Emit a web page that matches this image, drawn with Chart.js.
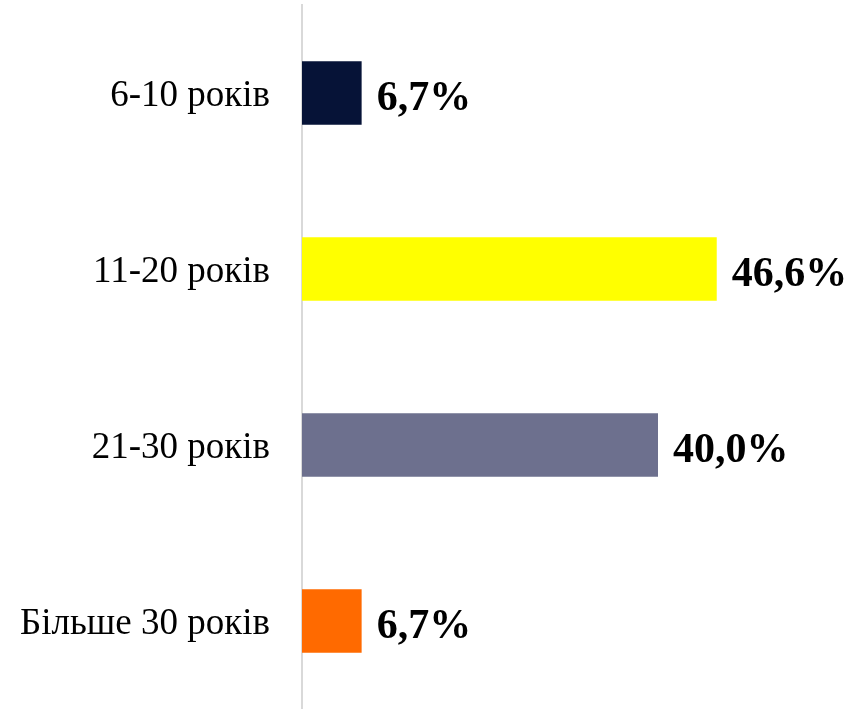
<!DOCTYPE html>
<html>
<head>
<meta charset="utf-8">
<script src="https://cdn.jsdelivr.net/npm/chart.js@4/dist/chart.umd.min.js"></script>
<style>
    body { margin: 0; background: #fff; }
    #wrap { width: 866px; height: 709px; }
</style>
</head>
<body>
<div id="wrap"><canvas id="ageChart"></canvas></div>
<script>
const labels = ['6-10 років', '11-20 років', '21-30 років', 'Більше 30 років'];
const shares = [6.7, 46.6, 40.0, 6.7];
const barColors = ['#061337', '#ffff00', '#6d708e', '#ff6a00'];

// draws the percentage labels next to each bar
const valueLabels = {
    id: 'valueLabels',
    afterDatasetsDraw(chart) {
        const ctx = chart.ctx;
        const meta = chart.getDatasetMeta(0);
        ctx.save();
        ctx.font = 'bold 42px "Liberation Serif", "Times New Roman", serif';
        ctx.fillStyle = '#000';
        ctx.textAlign = 'left';
        ctx.textBaseline = 'middle';
        meta.data.forEach((bar, i) => {
            const txt = shares[i].toFixed(1).replace('.', ',') + '%';
            ctx.fillText(txt, bar.x + 15, bar.y + 6);
        });
        ctx.restore();
    }
};

const data = {
    labels: labels,
    datasets: [{
        data: shares,
        backgroundColor: barColors,
        barPercentage: 0.9,
        categoryPercentage: 0.4,
    }]
};

const config = {
    type: 'bar',
    data: data,
    options: {
        indexAxis: 'y',
        responsive: true,
        maintainAspectRatio: false,
        animation: false,
        layout: { padding: { top: 5, right: 30, bottom: -4, left: 0 } },
        plugins: {
            legend: { display: false },
            tooltip: { enabled: false }
        },
        scales: {
            x: {
                display: false,
                min: 0,
                max: 60
            },
            y: {
                afterFit(scale) {
                    scale.width = 302;
                    scale.paddingTop = 0;
                    scale.paddingBottom = 0;
                },
                grid: { display: false, drawTicks: false },
                border: { display: true, color: '#d9d9d9', width: 2 },
                ticks: {
                    color: '#000',
                    padding: 32,
                    labelOffset: 3,
                    font: { family: '"Liberation Serif", "Times New Roman", serif', size: 37 }
                }
            }
        }
    },
    plugins: [valueLabels]
};

const myChart = new Chart(document.getElementById('ageChart'), config);
</script>
</body>
</html>
